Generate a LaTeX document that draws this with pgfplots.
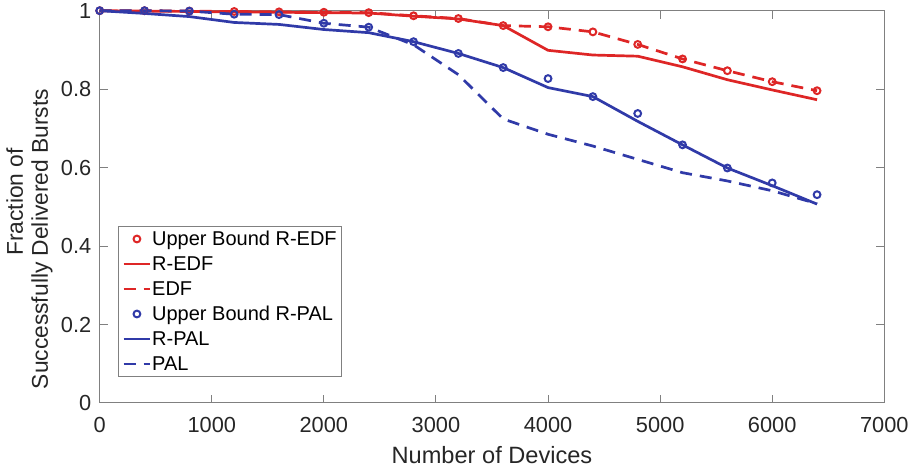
\documentclass[border=0pt]{standalone}
\usepackage{pgfplots}
\pgfplotsset{compat=1.18}
\usepackage{fontspec}
\setmainfont{Liberation Sans}
\definecolor{myred}{RGB}{222,38,38}
\definecolor{myblue}{RGB}{48,58,168}
\definecolor{axgray}{RGB}{128,128,128}

\pgfplotstableread{
x     ubedf  redf   edf    ubpal  rpal   pal
0     1.000  1.000  1.000  1.000  1.000  1.000
400   1.000  0.999  1.000  1.000  0.993  1.000
800   0.999  0.998  0.999  0.999  0.985  0.999
1200  0.998  0.997  0.998  0.991  0.970  0.991
1600  0.997  0.996  0.997  0.990  0.965  0.990
2000  0.996  0.995  0.996  0.968  0.952  0.968
2400  0.995  0.994  0.995  0.958  0.944  0.958
2800  0.987  0.986  0.987  0.921  0.921  0.913
3200  0.980  0.979  0.980  0.891  0.891  0.837
3600  0.962  0.962  0.962  0.855  0.855  0.724
4000  0.959  0.899  0.959  0.827  0.804  0.685
4400  0.946  0.887  0.946  0.781  0.781  0.655
4800  0.914  0.884  0.914  0.738  0.718  0.621
5200  0.877  0.857  0.877  0.658  0.658  0.587
5600  0.847  0.824  0.847  0.599  0.599  0.566
6000  0.819  0.798  0.819  0.561  0.554  0.541
6400  0.796  0.773  0.796  0.531  0.507  0.508
}\datatable

\begin{document}
\begin{tikzpicture}
\begin{axis}[
  scale only axis, width=392.3pt, height=196.15pt,
  xmin=0, xmax=7000, ymin=0, ymax=1,
  clip=false,
  xtick={0,1000,2000,3000,4000,5000,6000,7000},
  xticklabels={0,1000,2000,3000,4000,5000,6000,7000},
  ytick={0,0.2,0.4,0.6,0.8,1},
  yticklabels={0,0.2,0.4,0.6,0.8,1},
  xtick pos=both, ytick pos=both,
  tick align=inside, major tick length=4pt,
  axis line style={axgray, line width=0.5pt},
  major tick style={axgray, line width=0.5pt},
  tick label style={font=\fontsize{10.9}{12}\selectfont, text=black!85},
  xticklabel style={anchor=base, inner sep=0pt, yshift=-14.6pt},
  yticklabel style={anchor=east, inner sep=0pt, xshift=-4pt},
  xlabel={Number of Devices},
  xlabel style={font=\fontsize{11.8}{13}\selectfont, text=black!85, at={(axis description cs:0.5,0)}, anchor=base, yshift=-30pt, inner sep=0pt},
  ylabel={\hspace*{37pt}Fraction of\\Successfully Delivered Bursts},
  ylabel style={font=\fontsize{11.4}{12.5}\selectfont, text=black!85, align=center, at={(axis description cs:-0.0895,0.418)}, anchor=center, inner sep=0pt},
  legend cell align=left,
  legend image code/.code={\draw[mark repeat=2,mark phase=2] plot coordinates {(0pt,0pt) (6.65pt,0pt) (13.3pt,0pt)};},
  legend style={font=\fontsize{10}{11}\selectfont, draw=axgray, line width=0.5pt, fill=white,
    at={(0.0233,0.0663)}, anchor=south west, inner xsep=1.9pt, inner ysep=0pt,
    row sep=0pt, column sep=0pt,
    nodes={inner xsep=0.3pt, inner ysep=0pt, text height=9.4pt, text depth=3.1pt}},
]
\addplot[myred, only marks, mark=o, mark size=1.7pt, mark options={line width=1pt, solid}] table[x=x,y=ubedf] {\datatable};
\addlegendentry{Upper Bound R-EDF}
\addplot[myred, line width=1.35pt, no marks] table[x=x,y=redf] {\datatable};
\addlegendentry{R-EDF}
\addplot[myred, line width=1.35pt, no marks, dash pattern=on 6pt off 4pt] table[x=x,y=edf] {\datatable};
\addlegendentry{EDF}
\addplot[myblue, only marks, mark=o, mark size=1.7pt, mark options={line width=1pt, solid}] table[x=x,y=ubpal] {\datatable};
\addlegendentry{Upper Bound R-PAL}
\addplot[myblue, line width=1.35pt, no marks] table[x=x,y=rpal] {\datatable};
\addlegendentry{R-PAL}
\addplot[myblue, line width=1.35pt, no marks, dash pattern=on 6pt off 4pt] table[x=x,y=pal] {\datatable};
\addlegendentry{PAL}
\end{axis}
\pgfresetboundingbox
\path[use as bounding box] ([shift={(-49.85pt,-33.5pt)}]current axis.south west) rectangle ([shift={(14.35pt,5.35pt)}]current axis.north east);
\end{tikzpicture}
\end{document}
